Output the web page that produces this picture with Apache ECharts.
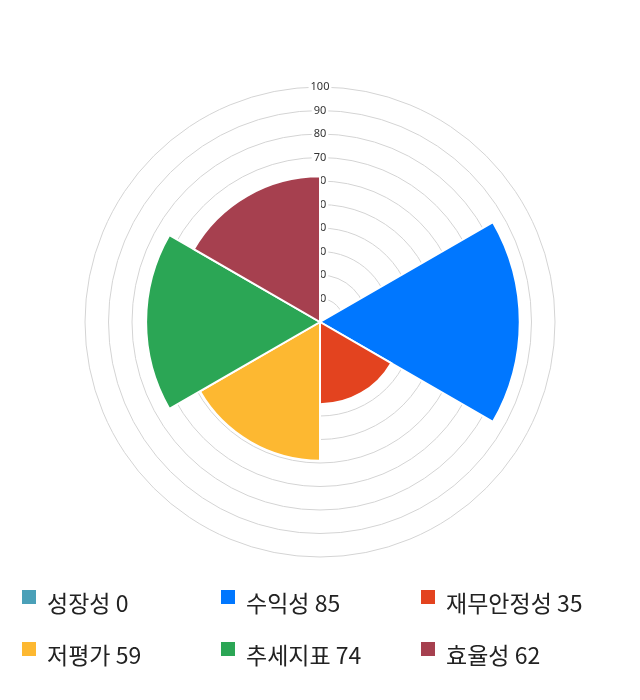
<!DOCTYPE html>
<html>
<head>
<meta charset="utf-8">
<script src="https://cdn.jsdelivr.net/npm/echarts@6/dist/echarts.min.js"></script>
<style>
html,body{margin:0;padding:0;background:#fff;}
#chart{width:640px;height:700px;}
</style>
</head>
<body>
<div id="chart"></div>
<script>
var categories = ['성장성', '수익성', '재무안정성', '저평가', '추세지표', '효율성'];
var values = [0, 85, 35, 59, 74, 62];
var colors = ['#4AA0B8', '#0077FF', '#E3431F', '#FDB831', '#2BA655', '#A6404F'];
var radiusTicks = [0, 10, 20, 30, 40, 50, 60, 70, 80, 90, 100];

var legendLeft = [22, 221, 421];
var legendTop = [590, 642];

var chart = echarts.init(document.getElementById('chart'), null, {renderer: 'canvas'});

var series = categories.map(function (name, i) {
  return {
    type: 'bar',
    coordinateSystem: 'polar',
    name: name,
    stack: 'all',
    barCategoryGap: '0%',
    itemStyle: {color: colors[i], borderColor: '#fff', borderWidth: 2},
    data: values.map(function (v, j) { return j === i ? v : '-'; }),
    silent: true
  };
});

var legends = categories.map(function (name, i) {
  return {
    data: [name],
    left: legendLeft[i % 3],
    top: legendTop[Math.floor(i / 3)],
    padding: 0,
    icon: 'path://M0,0h14v14h-14zM0,26',
    itemWidth: 14,
    itemHeight: 26,
    itemStyle: {borderWidth: 0},
    selectedMode: false,
    formatter: function (n) { return n + ' ' + values[categories.indexOf(n)]; },
    textStyle: {
      fontSize: 23,
      color: '#222',
      fontFamily: 'Noto Sans CJK KR',
      padding: [0, 0, 0, 6]
    }
  };
});

chart.setOption({
  animation: false,
  color: colors,
  polar: {center: [320, 322], radius: 235},
  angleAxis: {
    type: 'category',
    data: categories,
    startAngle: 90,
    clockwise: true,
    axisLine: {show: false},
    axisTick: {show: false},
    axisLabel: {show: false},
    splitLine: {show: false}
  },
  radiusAxis: {
    min: radiusTicks[0],
    max: radiusTicks[radiusTicks.length - 1],
    interval: 10,
    z: 0,
    axisLine: {show: false},
    axisTick: {show: false},
    splitLine: {show: true, lineStyle: {color: '#d4d4d4', width: 1}},
    axisLabel: {
      showMinLabel: false,
      margin: 0,
      align: 'center',
      verticalAlign: 'middle',
      fontSize: 11,
      color: '#333',
      fontFamily: 'Noto Sans',
      backgroundColor: '#fff',
      padding: [0, 2]
    }
  },
  legend: legends,
  series: series
});
</script>
</body>
</html>
